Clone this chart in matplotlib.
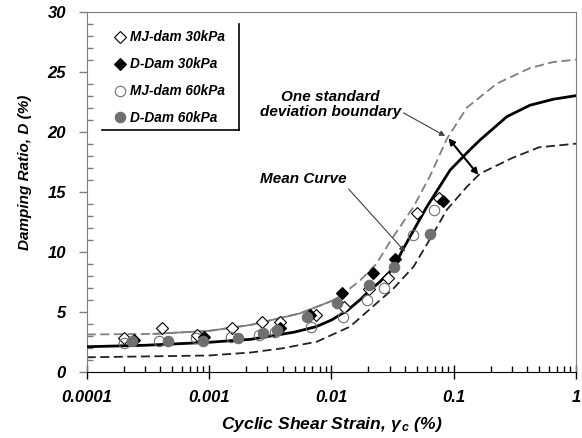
import matplotlib
matplotlib.use("Agg")
import matplotlib.pyplot as plt
from matplotlib.lines import Line2D
from matplotlib.ticker import MultipleLocator, LogLocator, NullFormatter, FixedLocator
import numpy as np

plt.rcParams["font.family"] = ["Liberation Sans", "DejaVu Sans"]
plt.rcParams["font.weight"] = "bold"
plt.rcParams["font.style"] = "italic"
plt.rcParams["axes.labelweight"] = "bold"
plt.rcParams["mathtext.fontset"] = "custom"
plt.rcParams["mathtext.it"] = "Liberation Sans:bold:italic"
plt.rcParams["mathtext.rm"] = "Liberation Sans:bold:italic"
plt.rcParams["mathtext.bf"] = "Liberation Sans:bold:italic"


# =========================
# DATA
# =========================

# test points
mj30_strain = [2.0e-4, 4.13e-4, 7.98e-4, 1.53e-3, 2.70e-3, 3.81e-3, 7.5e-3, 0.01276, 0.0203, 0.0293, 0.0499, 0.0754]
mj30_damp = [2.83, 3.6, 3.06, 3.6, 4.17, 4.17, 4.72, 5.37, 6.87, 7.8, 13.25, 14.5]

d30_strain = [2.42e-4, 9.16e-4, 3.77e-3, 6.66e-3, 0.01216, 0.0221, 0.0332, 0.0815]
d30_damp = [2.64, 2.87, 3.6, 4.72, 6.53, 8.25, 9.4, 14.2]

mj60_strain = [2.0e-4, 3.92e-4, 7.8e-4, 1.51e-3, 2.54e-3, 3.46e-3, 6.86e-3, 0.01255, 0.0196, 0.027, 0.0469, 0.0695]
mj60_damp = [2.42, 2.58, 2.78, 2.92, 3.06, 3.33, 3.75, 4.58, 5.97, 7.0, 11.4, 13.5]

d60_strain = [2.35e-4, 4.59e-4, 9.0e-4, 1.74e-3, 2.78e-3, 3.62e-3, 6.29e-3, 0.01115, 0.0203, 0.0325, 0.0641]
d60_damp = [2.58, 2.58, 2.53, 2.78, 3.2, 3.47, 4.58, 5.7, 7.2, 8.7, 11.45]

# mean curve
mean_strain = [1e-4, 3e-4, 1e-3, 2.2e-3, 5e-3, 7.5e-3, 0.01, 0.0135, 0.0172, 0.0207, 0.025, 0.032, 0.0385,
               0.06, 0.0935, 0.136, 0.164, 0.272, 0.42, 0.65, 1.0]
mean_damp = [2.08, 2.2, 2.45, 2.7, 3.3, 3.75, 4.3, 5.1, 6.0, 6.8, 7.5, 8.6, 10.2,
             13.7, 16.8, 18.5, 19.3, 21.25, 22.2, 22.7, 23.0]

# mean + one standard deviation
upper_strain = [1e-4, 3.5e-4, 1e-3, 2.2e-3, 5.5e-3, 0.0104, 0.0118, 0.0172, 0.0234, 0.030, 0.047,
                0.064, 0.088, 0.128, 0.225, 0.42, 0.65, 1.0]
upper_damp = [3.1, 3.15, 3.4, 3.9, 4.85, 5.95, 6.3, 7.6, 9.0, 10.8, 13.75,
              16.3, 19.4, 22.0, 24.0, 25.3, 25.8, 26.0]

# mean - one standard deviation
lower_strain = [1e-4, 1e-3, 2.2e-3, 4e-3, 7.6e-3, 0.0142, 0.024, 0.032, 0.047, 0.068, 0.088,
                0.128, 0.164, 0.3, 0.5, 1.0]
lower_damp = [1.2, 1.35, 1.6, 1.95, 2.5, 3.75, 5.8, 6.9, 8.75, 11.5, 13.5,
              15.4, 16.5, 17.8, 18.7, 19.0]

legend_labels = ["MJ-dam 30kPa", "D-Dam 30kPa", "MJ-dam 60kPa", "D-Dam 60kPa"]
x_ticks = [0.0001, 0.001, 0.01, 0.1, 1]
x_tick_labels = ["0.0001", "0.001", "0.01", "0.1", "1"]


# =========================
# FIGURE
# =========================

fig = plt.figure(figsize=(5.82, 4.38), dpi=100)
ax = fig.add_axes([0.149, 0.1514, 0.8407, 0.822])

gray = "#7f7f7f"

# curves
ax.plot(upper_strain, upper_damp, color=gray, lw=1.3, dashes=(5, 2.5), zorder=2)
mask = [(s >= 3.5e-4) and (s <= 0.0118) for s in upper_strain]
ax.plot([s for s, m in zip(upper_strain, mask) if m],
        [d for d, m in zip(upper_damp, mask) if m],
        color=gray, lw=1.3, zorder=2)
ax.plot(lower_strain, lower_damp, color="#222222", lw=1.3, dashes=(5, 2.5), zorder=2)
ax.plot(mean_strain, mean_damp, color="black", lw=2.0, zorder=3)

# test data
h1, = ax.plot(mj30_strain, mj30_damp, ls="none", marker="D", ms=6.5,
              mfc="white", mec="black", mew=0.8, zorder=4)
h2, = ax.plot(d30_strain, d30_damp, ls="none", marker="D", ms=6.5,
              mfc="black", mec="black", mew=0.8, zorder=5)
h3, = ax.plot(mj60_strain, mj60_damp, ls="none", marker="o", ms=7.5,
              mfc="none", mec="#6f6f6f", mew=0.8, zorder=4)
h4, = ax.plot(d60_strain, d60_damp, ls="none", marker="o", ms=7.5,
              mfc="#6f6f6f", mec="#6f6f6f", mew=0.8, zorder=5)

# axes
ax.set_xscale("log")
ax.set_xlim(1e-4, 1)
ax.set_ylim(0, 30)
ax.xaxis.set_major_locator(FixedLocator(x_ticks))
ax.set_xticklabels(x_tick_labels)
ax.xaxis.set_minor_locator(LogLocator(base=10, subs=np.arange(2, 10)))
ax.xaxis.set_minor_formatter(NullFormatter())
ax.yaxis.set_major_locator(MultipleLocator(5))
ax.yaxis.set_minor_locator(MultipleLocator(1))

for side in ["left", "top", "right"]:
    ax.spines[side].set_color(gray)
ax.spines["bottom"].set_color("black")

ax.tick_params(axis="x", which="major", direction="inout", length=10, width=1,
               labelsize=12, pad=8)
ax.tick_params(axis="x", which="minor", direction="in", length=4, width=1)
ax.tick_params(axis="y", which="major", direction="out", length=6, width=1,
               color=gray, labelsize=12, pad=9)
ax.tick_params(axis="y", which="minor", direction="in", length=4, width=1, color=gray)

ax.set_xlabel(r"Cyclic Shear Strain, $\gamma_{\,c}$ (%)", fontsize=12.6, labelpad=7.5)
ax.set_ylabel("Damping Ratio, D (%)", fontsize=11)
ax.yaxis.set_label_coords(-0.112, 0.555)

# legend with only a right and a bottom edge
leg = ax.legend([h1, h2, h3, h4], legend_labels, loc="upper left",
                bbox_to_anchor=(0.05, 0.963), frameon=False, fontsize=9.8,
                handlelength=0.5, handletextpad=0.45, labelspacing=0.95,
                borderaxespad=0)
ax.add_line(Line2D([0.0307, 0.3119], [0.6714, 0.6714], transform=ax.transAxes,
                   color="black", lw=1.2, zorder=6))
ax.add_line(Line2D([0.3119, 0.3119], [0.6714, 0.966], transform=ax.transAxes,
                   color="black", lw=1.2, zorder=6))

# annotations
ax.annotate("One standard\ndeviation boundary", xy=(0.0851, 19.64), xytext=(0.00977, 22.3),
            ha="center", va="center", fontsize=11, linespacing=1.1,
            arrowprops=dict(arrowstyle="-|>", color="#404040", lw=0.8,
                            mutation_scale=8, shrinkA=0, shrinkB=0,
                            relpos=(1.0, 0.25)))
ax.annotate("", xy=(0.0906, 19.45), xytext=(0.159, 16.4),
            arrowprops=dict(arrowstyle="<|-|>", color="black", lw=1.5,
                            mutation_scale=9, shrinkA=0, shrinkB=0))
ax.annotate("Mean Curve", xy=(0.04, 10.0), xytext=(0.00585, 16.03),
            ha="center", va="center", fontsize=11,
            arrowprops=dict(arrowstyle="-|>", color="#404040", lw=0.8,
                            mutation_scale=8, shrinkA=0, shrinkB=0,
                            relpos=(1.0, 0.0)))

fig.savefig("out.png", dpi=100, facecolor="white")
